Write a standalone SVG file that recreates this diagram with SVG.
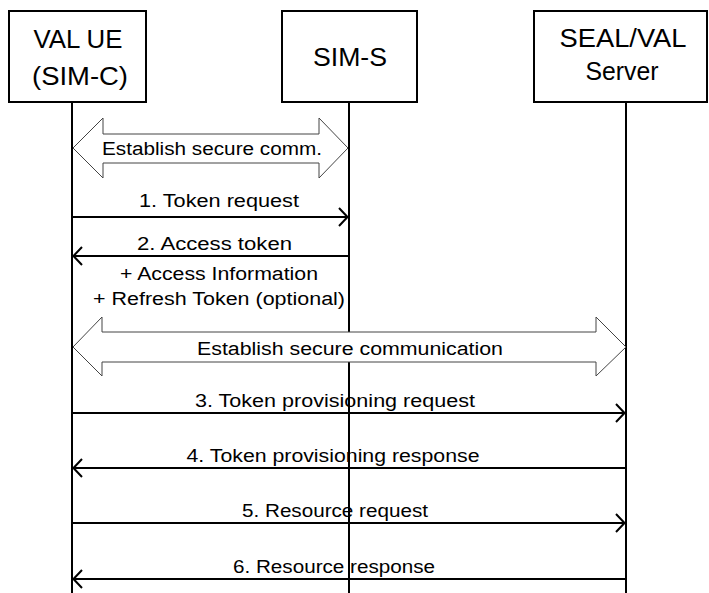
<svg xmlns="http://www.w3.org/2000/svg" width="709" height="593" viewBox="0 0 709 593">
<style>
.box{fill:#fff;stroke:#000;stroke-width:2}
.life{stroke:#000;stroke-width:2;fill:none}
.msg{stroke:#000;stroke-width:2;fill:none}
.blk{fill:#fff;stroke:#444;stroke-width:1}
.hd{font-family:"Liberation Sans",Arial,sans-serif;font-size:25px;fill:#000;text-anchor:middle}
.lb{font-family:"Liberation Sans",Arial,sans-serif;font-size:18px;fill:#000;text-anchor:middle}
</style>
<defs>
<marker id="ah" viewBox="0 0 10 20" refX="10" refY="10" markerWidth="10" markerHeight="20" markerUnits="userSpaceOnUse" orient="auto">
<path d="M1,1 L9.5,10 L1,19" fill="none" stroke="#000" stroke-width="2"/>
</marker>
</defs>
<g id="lifelines">
<line class="life" x1="72" y1="102" x2="72" y2="593"/>
<line class="life" x1="349" y1="102" x2="349" y2="593"/>
<line class="life" x1="626" y1="102" x2="626" y2="593"/>
</g>
<g id="node-val-ue">
<rect class="box" x="9" y="11" width="137" height="91"/>
<text class="hd" x="78" y="48" textLength="89" lengthAdjust="spacingAndGlyphs">VAL UE</text>
<text class="hd" x="80" y="85" textLength="96" lengthAdjust="spacingAndGlyphs">(SIM-C)</text>
</g>
<g id="node-sim-s">
<rect class="box" x="282" y="11" width="135" height="91"/>
<text class="hd" x="350" y="66" textLength="74" lengthAdjust="spacingAndGlyphs">SIM-S</text>
</g>
<g id="node-seal-val">
<rect class="box" x="534" y="11" width="173" height="91"/>
<text class="hd" x="623" y="47" textLength="127" lengthAdjust="spacingAndGlyphs">SEAL/VAL</text>
<text class="hd" x="622" y="80" textLength="73" lengthAdjust="spacingAndGlyphs">Server</text>
</g>
<g id="connectors">
<path class="blk" d="M73,148 L103,118 L103,134 L319,134 L319,118 L348,148 L319,178 L319,163 L103,163 L103,178 Z"/>
<text class="lb" x="212" y="155" textLength="220" lengthAdjust="spacingAndGlyphs">Establish secure comm.</text>
<line class="msg" x1="72" y1="217" x2="348" y2="217" marker-end="url(#ah)"/>
<text class="lb" x="219" y="207" textLength="160" lengthAdjust="spacingAndGlyphs">1. Token request</text>
<line class="msg" x1="349" y1="256" x2="73" y2="256" marker-end="url(#ah)"/>
<text class="lb" x="214.5" y="250" textLength="155" lengthAdjust="spacingAndGlyphs">2. Access token</text>
<text class="lb" x="219" y="280" textLength="198" lengthAdjust="spacingAndGlyphs">+ Access Information</text>
<text class="lb" x="219" y="305" textLength="252" lengthAdjust="spacingAndGlyphs">+ Refresh Token (optional)</text>
<path class="blk" d="M73,347 L102,317 L102,332 L596,332 L596,317 L626,347 L596,376 L596,362 L102,362 L102,376 Z"/>
<text class="lb" x="350" y="355" textLength="306" lengthAdjust="spacingAndGlyphs">Establish secure communication</text>
<line class="msg" x1="72" y1="413" x2="625" y2="413" marker-end="url(#ah)"/>
<text class="lb" x="335" y="407" textLength="280" lengthAdjust="spacingAndGlyphs">3. Token provisioning request</text>
<line class="msg" x1="626" y1="468" x2="73" y2="468" marker-end="url(#ah)"/>
<text class="lb" x="333" y="462" textLength="293" lengthAdjust="spacingAndGlyphs">4. Token provisioning response</text>
<line class="msg" x1="72" y1="523" x2="625" y2="523" marker-end="url(#ah)"/>
<text class="lb" x="335" y="517" textLength="186" lengthAdjust="spacingAndGlyphs">5. Resource request</text>
<line class="msg" x1="626" y1="579" x2="73" y2="579" marker-end="url(#ah)"/>
<text class="lb" x="334" y="573" textLength="202" lengthAdjust="spacingAndGlyphs">6. Resource response</text>
</g>
</svg>
